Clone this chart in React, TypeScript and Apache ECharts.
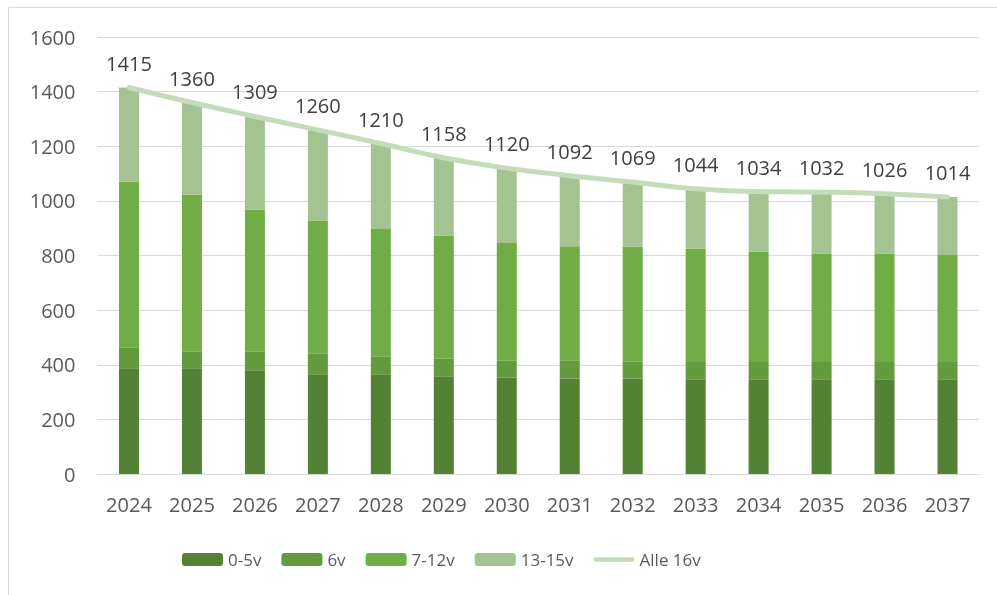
import React, { useEffect, useRef } from "react";
import * as echarts from "echarts";

const years = ["2024", "2025", "2026", "2027", "2028", "2029", "2030", "2031", "2032", "2033", "2034", "2035", "2036", "2037"];
const age0to5 = [387, 387, 380, 365, 365, 358, 352, 350, 350, 347, 347, 347, 347, 347];
const age6 = [77, 61, 68, 77, 66, 64, 63, 66, 61, 63, 63, 63, 63, 63];
const age7to12 = [606, 575, 520, 486, 466, 451, 431, 418, 421, 415, 404, 397, 397, 392];
const age13to15 = [345, 337, 341, 332, 313, 285, 274, 258, 237, 219, 220, 225, 219, 212];
const alle = [1415, 1360, 1309, 1260, 1210, 1158, 1120, 1092, 1069, 1044, 1034, 1032, 1026, 1014];

const FONT = "'Open Sans', 'Noto Sans', sans-serif";
const LINE_COLOR = "#C5DCBA";

export default function App() {
  const ref = useRef<HTMLDivElement>(null);
  useEffect(() => {
    if (!ref.current) return;
    const chart = echarts.init(ref.current, null, { renderer: "svg" });
    const barSeries = (name: string, data: number[], color: string) => ({
      name,
      type: "bar",
      stack: "total",
      data,
      barWidth: 20,
      itemStyle: { color },
      emphasis: { disabled: true },
    });
    chart.setOption({
      animation: false,
      textStyle: { fontFamily: FONT },
      graphic: [
        {
          type: "rect",
          shape: { x: 8.5, y: 7.5, width: 1200, height: 1000 },
          style: { fill: "none", stroke: "#d9d9d9", lineWidth: 1 },
          silent: true,
        },
      ],
      grid: { left: 97.5, right: 18, top: 37, bottom: 121 },
      legend: {
        left: 182,
        top: 551,
        padding: 0,
        itemWidth: 41,
        itemHeight: 13,
        itemGap: 20,
        textStyle: { fontSize: 17, color: "#595959", fontFamily: FONT },
        data: [
          "0-5v",
          "6v",
          "7-12v",
          "13-15v",
          {
            name: "Alle 16v",
            icon: "path://M2.5,0 L42.5,0 A2.5,2.5 0 0 1 42.5,5 L2.5,5 A2.5,2.5 0 0 1 2.5,0 Z",
            itemStyle: { color: LINE_COLOR, opacity: 1 },
          },
        ],
      },
      xAxis: {
        type: "category",
        data: years,
        axisLine: { lineStyle: { color: "#d9d9d9", width: 1 } },
        axisTick: { show: false },
        axisLabel: { fontSize: 20, color: "#595959", margin: 20, fontFamily: FONT },
      },
      yAxis: {
        type: "value",
        min: 0,
        max: 1600,
        interval: 200,
        axisLine: { show: false },
        axisTick: { show: false },
        splitLine: { lineStyle: { color: "#d9d9d9", width: 1 } },
        axisLabel: {
          fontSize: 20,
          color: "#595959",
          margin: 22,
          fontFamily: FONT,
          formatter: (v: number) => String(v),
        },
      },
      series: [
        barSeries("0-5v", age0to5, "#548235"),
        barSeries("6v", age6, "#629A3D"),
        barSeries("7-12v", age7to12, "#70AD47"),
        barSeries("13-15v", age13to15, "#A3C490"),
        {
          name: "Alle 16v",
          type: "line",
          data: alle.map((v, i) => (i === 0 ? { value: v, label: { offset: [-8, 0] } } : v)),
          smooth: true,
          symbol: "circle",
          symbolSize: 1,
          showSymbol: true,
          z: 5,
          itemStyle: { color: LINE_COLOR },
          lineStyle: { color: LINE_COLOR, width: 5, cap: "round" },
          label: {
            show: true,
            position: "top",
            distance: 14,
            fontSize: 20,
            color: "#404040",
            opacity: 1,
            fontFamily: FONT,
          },
          labelLayout: { hideOverlap: false },
          emphasis: { disabled: true },
        },
      ],
    });
    return () => chart.dispose();
  }, []);
  return <div ref={ref} style={{ position: "fixed", left: 0, top: 0, width: 997, height: 595 }} />;
}
